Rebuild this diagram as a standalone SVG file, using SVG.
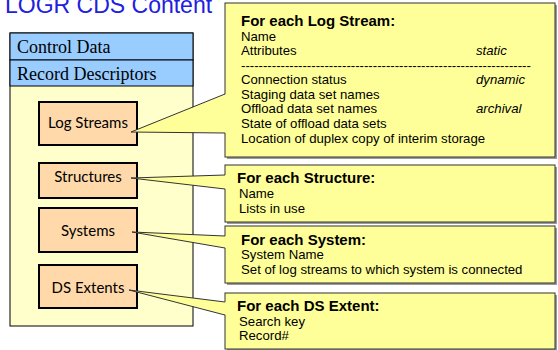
<svg xmlns="http://www.w3.org/2000/svg" width="558" height="350" viewBox="0 0 558 350">
  <style>
    .title { font-family: "Liberation Sans", Arial, sans-serif; font-size: 23px; fill: #2020E0; }
    .band { stroke: #000; stroke-width: 1; }
    .serif { font-family: "Liberation Serif", "Times New Roman", serif; font-size: 18px; fill: #000; }
    .item { fill: #FFD9AA; stroke: #000; stroke-width: 2; }
    .itemLabel { font-family: Lato, "Liberation Sans", sans-serif; font-size: 15px; fill: #000; text-anchor: middle; }
    .callout { fill: #FFFF99; stroke: #333; stroke-width: 1; }
    .shadow { fill: #9a9a9a; }
    .head { font-family: "Liberation Sans", Arial, sans-serif; font-size: 15px; font-weight: bold; fill: #000; }
    .line { font-family: "Liberation Sans", Arial, sans-serif; font-size: 13.2px; fill: #000; }
    .it { font-style: italic; }
    .ptrFill { fill: #FFFF99; stroke: none; }
    .ptrEdge { fill: none; stroke: #333; stroke-width: 1; }
  </style>

  <!-- heading -->
  <text class="title" x="5" y="13">LOGR CDS Content</text>

  <!-- CDS container with its header bands -->
  <g id="cds">
    <rect x="10" y="33" width="183" height="293" fill="#FFFFCC" class="band"/>
    <rect x="10" y="33" width="183" height="27" fill="#99CCFF" class="band"/>
    <rect x="10" y="60" width="183" height="26" fill="#99CCFF" class="band"/>
    <text class="serif" x="17" y="53">Control Data</text>
    <text class="serif" x="17" y="80">Record Descriptors</text>
  </g>

  <g id="log-streams">
    <rect class="item" x="39" y="102" width="98" height="43"/>
    <text class="itemLabel" x="88" y="128">Log Streams</text>
  </g>
  <g id="structures">
    <rect class="item" x="39" y="163" width="98" height="35"/>
    <text class="itemLabel" x="88" y="182">Structures</text>
  </g>
  <g id="systems">
    <rect class="item" x="39" y="208" width="98" height="44"/>
    <text class="itemLabel" x="88" y="236">Systems</text>
  </g>
  <g id="ds-extents">
    <rect class="item" x="39" y="265" width="98" height="43"/>
    <text class="itemLabel" x="88" y="293">DS Extents</text>
  </g>

  <!-- detail boxes -->
  <g id="log-stream-detail">
    <rect class="shadow" x="227" y="5" width="330" height="154"/>
    <rect class="callout" x="225" y="3" width="330" height="154"/>
    <text class="head" x="241" y="26">For each Log Stream:</text>
    <text class="line" x="241" y="41">Name</text>
    <text class="line" x="241" y="55">Attributes</text>
    <text class="line it" x="476" y="55">static</text>
    <text class="line" x="241" y="70">------------------------------------------------------------------</text>
    <text class="line" x="241" y="84">Connection status</text>
    <text class="line it" x="476" y="84">dynamic</text>
    <text class="line" x="241" y="99">Staging data set names</text>
    <text class="line" x="241" y="113">Offload data set names</text>
    <text class="line it" x="476" y="113">archival</text>
    <text class="line" x="241" y="128">State of offload data sets</text>
    <text class="line" x="241" y="143">Location of duplex copy of interim storage</text>
  </g>

  <g id="structure-detail">
    <rect class="shadow" x="227" y="167" width="330" height="57"/>
    <rect class="callout" x="225" y="165" width="330" height="57"/>
    <text class="head" x="237" y="183">For each Structure:</text>
    <text class="line" x="239" y="198">Name</text>
    <text class="line" x="239" y="213">Lists in use</text>
  </g>

  <g id="system-detail">
    <rect class="shadow" x="227" y="228" width="330" height="57"/>
    <rect class="callout" x="225" y="226" width="330" height="57"/>
    <text class="head" x="241" y="245">For each System:</text>
    <text class="line" x="241" y="259">System Name</text>
    <text class="line" x="241" y="274">Set of log streams to which system is connected</text>
  </g>

  <g id="ds-extent-detail">
    <rect class="shadow" x="227" y="295" width="330" height="57"/>
    <rect class="callout" x="225" y="293" width="330" height="56"/>
    <text class="head" x="237" y="311">For each DS Extent:</text>
    <text class="line" x="239" y="326">Search key</text>
    <text class="line" x="239" y="340">Record#</text>
  </g>

  <!-- callout pointers from each item to its detail box -->
  <g id="connectors">
    <polygon class="ptrFill" points="226,94 131,132 226,133"/>
    <polyline class="ptrEdge" points="225,94 131,132 225,133"/>

    <polygon class="ptrFill" points="226,175 131,178 226,189"/>
    <polyline class="ptrEdge" points="225,175 131,178 225,189"/>

    <polygon class="ptrFill" points="226,236 132,232 226,248"/>
    <polyline class="ptrEdge" points="225,236 132,232 225,248"/>

    <polygon class="ptrFill" points="226,302 129,290 226,315"/>
    <polyline class="ptrEdge" points="225,302 129,290 225,315"/>
  </g>
</svg>
